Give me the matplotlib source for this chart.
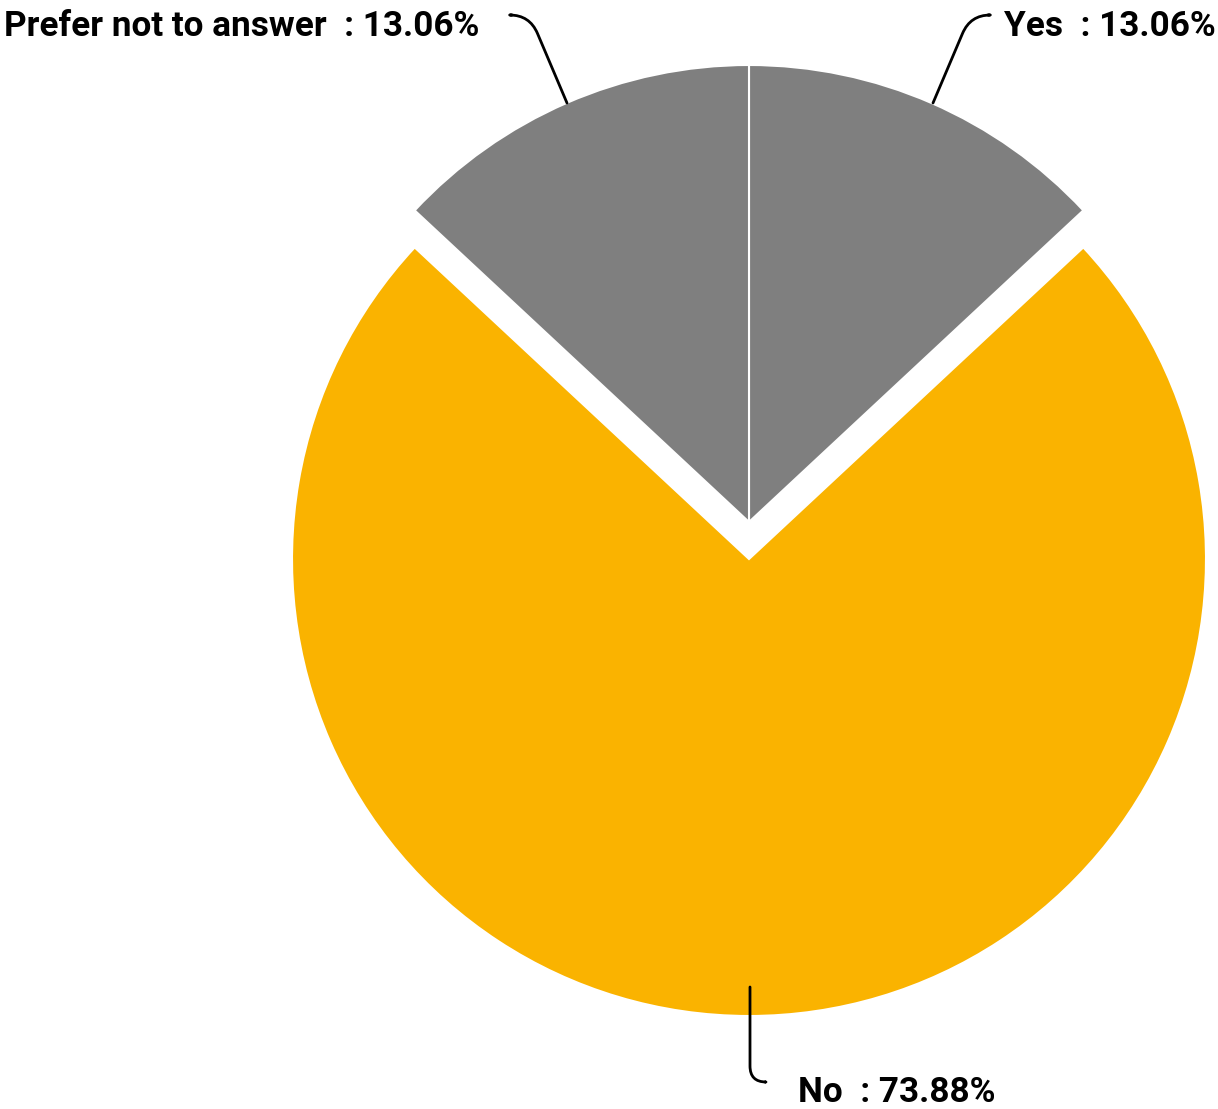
import matplotlib
matplotlib.use('Agg')
import matplotlib.pyplot as plt

labels = ['Yes', 'No', 'Prefer not to answer']
shares = [13.06, 73.88, 13.06]
colors = ['#7f7f7f', '#fab300', '#7f7f7f']

W, H = 1218, 1109
fig = plt.figure(figsize=(W / 100, H / 100), dpi=100)
ax = fig.add_axes([0, 0, 1, 1])

def py(y):
    # pixel row (top-down) -> data y
    return H - y

R = 457
# explode is an absolute offset in data units here
ax.pie(shares, colors=colors, startangle=90, counterclock=False,
       center=(749, py(522)), radius=R, explode=[0, 37, 0],
       wedgeprops=dict(edgecolor='white', linewidth=1.5), frame=True)
ax.set_xlim(0, W)
ax.set_ylim(0, H)
ax.axis('off')

font = dict(family=['Roboto', 'DejaVu Sans'], weight='bold', fontsize=25.3, color='black')

ax.text(4, py(36), f'{labels[2]}  : {shares[2]:.2f}%', ha='left', va='baseline', **font)
ax.text(1216, py(36), f'{labels[0]}  : {shares[0]:.2f}%', ha='right', va='baseline', **font)
ax.text(798, py(1102), f'{labels[1]}  : {shares[1]:.2f}%', ha='left', va='baseline', **font)

line = dict(arrowstyle='-', color='black', lw=2, shrinkA=0, shrinkB=0)
ax.annotate('', xy=(567, py(103)), xytext=(512, py(15)),
            arrowprops=dict(connectionstyle='angle,angleA=0,angleB=113,rad=20', **line))
ax.annotate('', xy=(933, py(103)), xytext=(988, py(15)),
            arrowprops=dict(connectionstyle='angle,angleA=180,angleB=67,rad=20', **line))
ax.annotate('', xy=(750, py(987)), xytext=(765, py(1082)),
            arrowprops=dict(connectionstyle='angle,angleA=180,angleB=90,rad=16', **line))

fig.savefig('out.png', dpi=100)
